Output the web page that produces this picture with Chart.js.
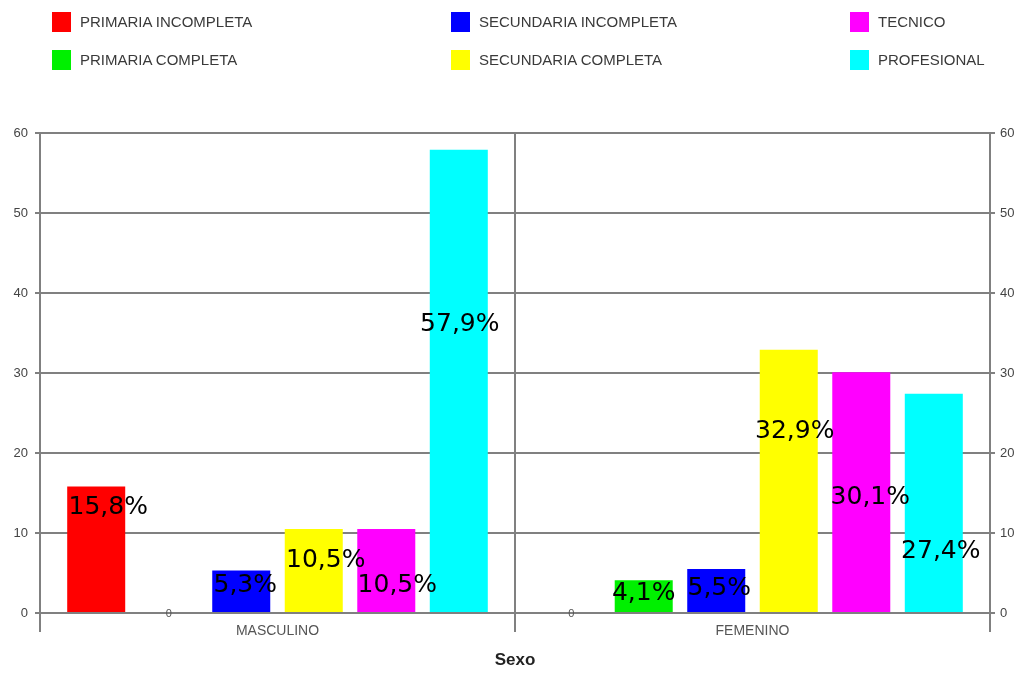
<!DOCTYPE html>
<html>
<head>
<meta charset="utf-8">
<script src="https://cdn.jsdelivr.net/npm/chart.js@4"></script>
<style>
  body { margin: 0; background: #fff; }
  #wrap { position: relative; width: 1018px; height: 675px; }
  #chart { position: absolute; left: 0; top: 0; }
  #legend {
    position: absolute; left: 52px; top: 12px;
    display: grid; grid-auto-flow: column;
    grid-template-columns: 399px 399px auto; grid-template-rows: 38px 38px;
    font-family: "Liberation Sans", Arial, sans-serif; font-size: 15px; color: #3a3a3a;
  }
  .item { display: flex; align-items: flex-start; }
  .box { width: 19px; height: 20px; margin-right: 9px; }
  .item span { line-height: 20px; }
</style>
</head>
<body>
<div id="wrap">
  <canvas id="chart" width="1018" height="675"></canvas>
  <div id="legend"></div>
</div>
<script>
// ---------- DATA ----------
const categories = ["MASCULINO", "FEMENINO"];
const seriesNames = [
  "PRIMARIA INCOMPLETA",
  "PRIMARIA COMPLETA",
  "SECUNDARIA INCOMPLETA",
  "SECUNDARIA COMPLETA",
  "TECNICO",
  "PROFESIONAL",
];
const masculino = [15.8, 0, 5.3, 10.5, 10.5, 57.9];
const femenino = [0, 4.1, 5.5, 32.9, 30.1, 27.4];
const yMin = 0;
const yMax = 60;
const yStep = 10;

// ---------- STYLE ----------
const seriesColors = ["#ff0000", "#00f000", "#0000ff", "#ffff00", "#ff00ff", "#00ffff"];
const gridColor = "#808080";

// label nudges [dx, dy] in px, dy measured down from the top of each bar
const labelShift = [
  [[12, 21], null],
  [null, [0, 13]],
  [[4, 15], [3, 19]],
  [[12, 31], [6, 82]],
  [[11, 56], [9, 125]],
  [[1, 175], [7, 158]],
];

// ---------- LEGEND (3 columns, filled top-down) ----------
const legendEl = document.getElementById("legend");
seriesNames.forEach((name, i) => {
  legendEl.insertAdjacentHTML(
    "beforeend",
    `<div class="item"><div class="box" style="background:${seriesColors[i]}"></div><span>${name}</span></div>`
  );
});

// ---------- VALUE LABELS ----------
const valueLabels = {
  id: "valueLabels",
  afterDatasetsDraw(chart) {
    const ctx = chart.ctx;
    ctx.save();
    chart.data.datasets.forEach((ds, i) => {
      const meta = chart.getDatasetMeta(i);
      meta.data.forEach((bar, j) => {
        const v = ds.data[j];
        if (v === 0) {
          ctx.font = "11px 'Liberation Sans', Arial, sans-serif";
          ctx.fillStyle = "#555";
          ctx.textAlign = "center";
          ctx.textBaseline = "middle";
          ctx.fillText("0", bar.x, bar.base + 1);
          return;
        }
        const s = labelShift[i][j] || [0, 15];
        ctx.font = "25px 'DejaVu Sans', sans-serif";
        ctx.fillStyle = "#000";
        ctx.textAlign = "center";
        ctx.textBaseline = "middle";
        ctx.fillText(v.toFixed(1).replace(".", ",") + "%", bar.x + s[0], bar.y + s[1]);
      });
    });
    ctx.restore();
  },
};

// ---------- CHART ----------
const tickFont = { family: "'Liberation Sans', Arial, sans-serif", size: 13 };

new Chart(document.getElementById("chart"), {
  type: "bar",
  data: {
    labels: categories,
    datasets: seriesNames.map((name, i) => ({
      label: name,
      data: [masculino[i], femenino[i]],
      backgroundColor: seriesColors[i],
      borderWidth: 0,
      categoryPercentage: 0.916,
      barPercentage: 0.8,
    })),
  },
  options: {
    responsive: false,
    animation: false,
    devicePixelRatio: 1,
    layout: { padding: { top: 133, left: 0, right: 0, bottom: 0 } },
    plugins: {
      legend: { display: false },
      tooltip: { enabled: false },
    },
    scales: {
      x: {
        offset: true,
        grid: { offset: true, color: gridColor, lineWidth: 2, tickLength: 19 },
        border: { color: gridColor, width: 2 },
        ticks: { color: "#555", font: { family: tickFont.family, size: 14 }, padding: -9 },
        title: {
          display: true,
          text: "Sexo",
          color: "#222",
          font: { family: tickFont.family, size: 17, weight: "bold" },
          padding: { top: 0, bottom: 4 },
        },
        afterFit(axis) { axis.height = 62; },
      },
      y: {
        position: "left",
        min: yMin,
        max: yMax,
        ticks: { stepSize: yStep, color: "#444", font: tickFont, padding: 7 },
        grid: { color: gridColor, lineWidth: 2, tickLength: 5 },
        border: { color: gridColor, width: 2 },
        afterFit(axis) { axis.width = 40; },
      },
      y2: {
        position: "right",
        min: yMin,
        max: yMax,
        ticks: { stepSize: yStep, color: "#444", font: tickFont, padding: 5 },
        grid: { drawOnChartArea: false, color: gridColor, lineWidth: 2, tickLength: 5 },
        border: { color: gridColor, width: 2 },
        afterFit(axis) { axis.width = 28; },
      },
    },
  },
  plugins: [valueLabels],
});
</script>
</body>
</html>
